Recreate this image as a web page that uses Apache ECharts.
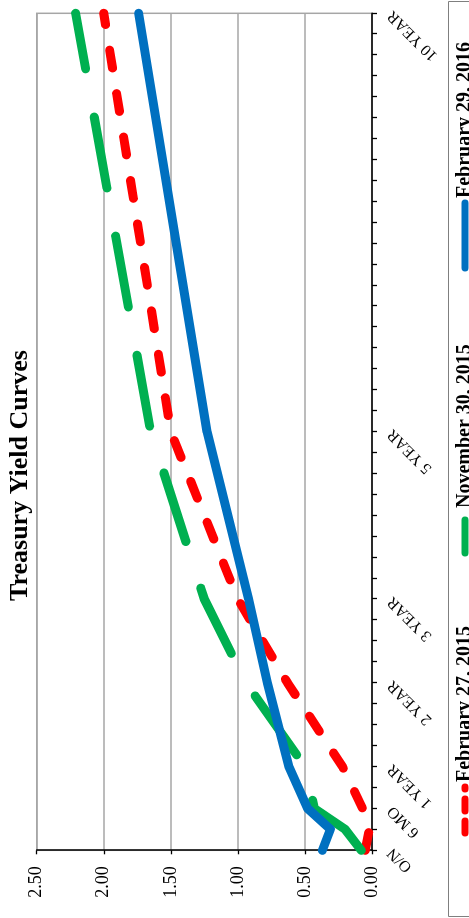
<!DOCTYPE html>
<html>
<head>
<meta charset="utf-8">
<script src="https://cdn.jsdelivr.net/npm/echarts@6/dist/echarts.min.js"></script>
<style>
html,body{margin:0;padding:0;width:469px;height:918px;overflow:hidden;background:#fff}
#wrap{position:absolute;left:0;top:0;width:918px;height:469px;transform-origin:0 0;transform:translate(0,918px) rotate(-90deg);}
#chart{width:918px;height:469px;background:#fff}
</style>
</head>
<body>
<div id="wrap"><div id="chart"></div></div>
<script>
// Maturities (years) of the plotted points
const maturityYears = [0, 0.25, 0.5, 1, 2, 3, 5, 10];
const maturityNames = ['O/N', '3 MO', '6 MO', '1 YEAR', '2 YEAR', '3 YEAR', '5 YEAR', '10 YEAR'];
// Labelled ticks on the maturity axis
const tickLabelValues = [0, 0.5, 1, 2, 3, 5, 10];
const tickLabels = ['O/N', '6 MO', '1 YEAR', '2 YEAR', '3 YEAR', '5 YEAR', '10 YEAR'];
// Series
const seriesNames = ['February 27, 2015', 'November 30, 2015', 'February 29, 2016'];
const feb2015 = [0.05, 0.02, 0.07, 0.22, 0.63, 1.00, 1.50, 2.00];
const nov2015 = [0.08, 0.20, 0.43, 0.50, 0.94, 1.25, 1.65, 2.21];
const feb2016 = [0.37, 0.31, 0.48, 0.62, 0.78, 0.92, 1.23, 1.74];

const SERIF = "'Liberation Serif','Times New Roman',serif";

function pairs(vals) { return maturityYears.map((m, i) => [m, vals[i]]); }

const chart = echarts.init(document.getElementById('chart'), null, {renderer: 'canvas'});

const legendBase = {
  orient: 'horizontal', top: 455, padding: 0, itemHeight: 14,
  textStyle: {fontFamily: SERIF, fontWeight: 'bold', fontSize: 20, color: '#000'},
  itemStyle: {opacity: 0},
  selectedMode: false
};

chart.setOption({
  animation: false,
  backgroundColor: '#fff',
  title: {
    text: 'Treasury Yield Curves', left: 317, top: 7, padding: 0,
    textStyle: {fontFamily: SERIF, fontWeight: 'bold', fontSize: 26, color: '#000'}
  },
  legend: [
    Object.assign({}, legendBase, {data: [seriesNames[0]], left: 81.5, itemWidth: 46,
      lineStyle: {width: 7, cap: 'round', type: [12, 10], color: '#FF0000'}}),
    Object.assign({}, legendBase, {data: [seriesNames[1]], left: 361.5, itemWidth: 40,
      lineStyle: {width: 7, cap: 'round', type: [33, 20], color: '#00B050'}}),
    Object.assign({}, legendBase, {data: [seriesNames[2]], left: 646.5, itemWidth: 65,
      lineStyle: {width: 7, cap: 'round', type: 'solid', color: '#0070C0'}})
  ],
  graphic: [{
    type: 'rect', silent: true,
    shape: {x: 1.5, y: 448.5, width: 915, height: 40},
    style: {fill: 'none', stroke: '#7f7f7f', lineWidth: 1}
  }],
  grid: {
    left: 67.7, right: 13.3, top: 36.7, bottom: 97,
    containLabel: false, outerBoundsMode: 'none',
    show: true, borderColor: '#a6a6a6', borderWidth: 1.5, backgroundColor: '#fff'
  },
  xAxis: {
    type: 'value', min: 0, max: 10, interval: 0.25,
    axisLine: {show: true, onZero: false, lineStyle: {color: '#000', width: 1.5}},
    axisTick: {show: true, length: 5, lineStyle: {color: '#000', width: 1.3}},
    splitLine: {show: false},
    axisLabel: {
      rotate: 45, margin: 18, fontFamily: SERIF, fontSize: 16, color: '#000',
      showMinLabel: true, showMaxLabel: true,
      formatter: function (v) {
        const r = Math.round(v * 100) / 100;
        const i = tickLabelValues.indexOf(r);
        return i >= 0 ? tickLabels[i] : '';
      }
    }
  },
  yAxis: {
    type: 'value', min: 0, max: 2.5, interval: 0.5,
    axisLine: {show: true, lineStyle: {color: '#000', width: 1.5}},
    axisTick: {show: true, length: 4, lineStyle: {color: '#000', width: 1.3}},
    splitLine: {show: true, lineStyle: {color: '#a6a6a6', width: 1.5}},
    axisLabel: {
      margin: 16, fontFamily: SERIF, fontSize: 18, color: '#000',
      formatter: function (v) { return v.toFixed(2); }
    }
  },
  series: [
    {name: seriesNames[0], type: 'line', data: pairs(feb2015), symbol: 'none',
     itemStyle: {color: '#FF0000'},
     lineStyle: {color: '#FF0000', width: 9, type: [18, 26], cap: 'round', join: 'round'}},
    {name: seriesNames[1], type: 'line', data: pairs(nov2015), symbol: 'none',
     itemStyle: {color: '#00B050'},
     lineStyle: {color: '#00B050', width: 9, type: [72, 49], cap: 'round', join: 'round'}},
    {name: seriesNames[2], type: 'line', data: pairs(feb2016), symbol: 'none',
     itemStyle: {color: '#0070C0'},
     lineStyle: {color: '#0070C0', width: 9, type: 'solid', cap: 'round', join: 'round'}}
  ]
});
</script>
</body>
</html>
